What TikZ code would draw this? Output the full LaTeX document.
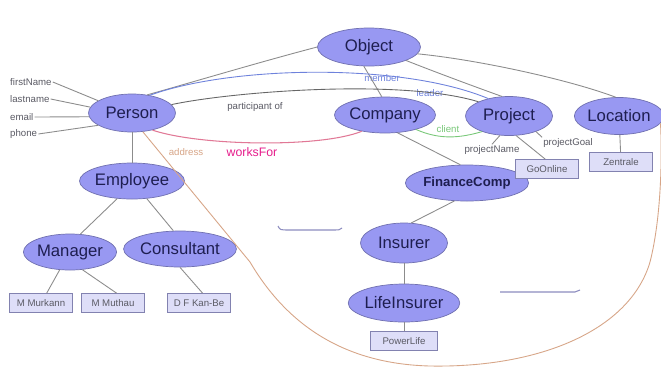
\documentclass[tikz,border=0pt]{standalone}
\usepackage{fontspec}
\setmainfont{Liberation Sans}
\usetikzlibrary{shapes.geometric}
\definecolor{clsfill}{RGB}{152,152,242}
\definecolor{clsline}{RGB}{112,112,176}
\definecolor{clstext}{RGB}{30,30,80}
\definecolor{instfill}{RGB}{222,222,248}
\definecolor{instline}{RGB}{130,130,176}
\definecolor{edge}{RGB}{140,140,140}
\definecolor{lbl}{RGB}{90,90,100}
\definecolor{memberblue}{RGB}{110,130,220}
\definecolor{clientgreen}{RGB}{120,200,120}
\definecolor{worksred}{RGB}{225,120,150}
\definecolor{addr}{RGB}{215,165,135}
\definecolor{worksmag}{RGB}{230,30,140}
\tikzset{
  cls/.style={ellipse, draw=clsline, fill=clsfill, inner sep=0pt,
    minimum width=1.74cm, minimum height=0.76cm, text=clstext,
    font=\fontsize{9.5}{11}\selectfont},
  inst/.style={rectangle, draw=instline, fill=instfill, inner sep=0pt,
    minimum width=1.26cm, minimum height=0.38cm, text=lbl,
    font=\fontsize{5.5}{6}\selectfont},
  attr/.style={inner sep=0.5pt, text=lbl, font=\fontsize{5.5}{6}\selectfont},
  elbl/.style={inner sep=0.5pt, font=\fontsize{5.5}{6}\selectfont},
  link/.style={draw=edge, line width=0.5pt},
}
\begin{document}
\begin{tikzpicture}[x=0.02cm, y=-0.02cm]
\useasboundingbox (0,0) rectangle (661,376);
\fill[white] (0,0) rectangle (661,376);

% classes
\node[cls, minimum width=2.06cm] (obj) at (369,47) {Object};
\node[cls] (person) at (132,113) {Person};
\node[cls, minimum width=1.8cm, minimum height=0.72cm] (company) at (385,115) {Company};
\node[cls, minimum height=0.78cm] (project) at (509,116) {Project};
\node[cls, minimum width=1.68cm, minimum height=0.74cm] (location) at (619,116) {Location};
\node[cls, minimum height=0.72cm] (employee) at (132,181) {Employee};
\node[cls, minimum height=0.72cm] (manager) at (70,252) {Manager};
\node[cls, minimum height=0.72cm] (consultant) at (180,249) {Consultant};
\node[cls, minimum width=1.8cm, minimum height=0.72cm, font=\fontsize{7.5}{9}\selectfont\bfseries] (finance) at (467,183) {FinanceComp};
\node[cls, minimum height=0.8cm] (insurer) at (404,243) {Insurer};
\node[cls] (life) at (404,303) {LifeInsurer};

% instances
\node[inst] (murkann) at (41,303) {M Murkann};
\node[inst] (muthau) at (113,303) {M Muthau};
\node[inst] (kanbe) at (199,303) {D F Kan-Be};
\node[inst] (goonline) at (547,169) {GoOnline};
\node[inst] (zentrale) at (621,162) {Zentrale};
\node[inst, minimum width=1.34cm] (powerlife) at (404,341) {PowerLife};

% attributes of Person
\node[attr, anchor=west] (fname) at (9,82) {firstName};
\node[attr, anchor=west] (lname) at (9,99) {lastname};
\node[attr, anchor=west] (email) at (9,117) {email};
\node[attr, anchor=west] (phone) at (9,134) {phone};

\begin{scope}[on background layer/.style={}]
\draw[link] (fname.east) -- (person.160);
\draw[link] (lname.east) -- (person.172);
\draw[link] (email.east) -- (person.185);
\draw[link] (phone.east) -- (person.200);
\end{scope}

% edge labels
\node[elbl, text=lbl] (lpart) at (255,107) {participant of};
\node[elbl, text=memberblue] (lmember) at (382,78) {member};
\node[elbl, text=memberblue] (lleader) at (430,93) {leader};
\node[elbl, text=clientgreen] (lclient) at (448,129) {client};
\node[elbl, text=addr] (laddr) at (186,152) {address};
\node[inner sep=0.5pt, text=worksmag, font=\fontsize{7}{8}\selectfont] (lworks) at (252,152) {worksFor};
\node[elbl, text=lbl] (lpname) at (492,150) {projectName};
\node[elbl, text=lbl] (lpgoal) at (568,143) {projectGoal};

% hierarchy links
\draw[link] (obj.west) .. controls (260,62) and (200,80) .. (person.50);
\draw[link] (obj.-105) -- (company.100);
\draw[link] (obj.-20) .. controls (430,70) and (470,85) .. (project.110);
\draw[link] (obj.-8) .. controls (480,60) and (570,80) .. (location.100);
\draw[link] (company.-55) -- (finance.110);
\draw[link] (finance.-125) -- (insurer.70);
\draw[link] (insurer) -- (life);
\draw[link] (person) -- (employee);
\draw[link] (employee.-130) -- (manager.60);
\draw[link] (employee.-50) -- (consultant.110);

% instance links
\draw[link] (manager.-120) -- (murkann.60);
\draw[link] (manager.-55) -- (muthau.70);
\draw[link] (consultant.-90) -- (kanbe.70);
\draw[link] (life) -- (powerlife);
\draw[link] (location) -- (zentrale);
\draw[link] (project.-70) -- (goonline.100);

% properties
\draw[draw=memberblue, line width=0.5pt] (person.45) .. controls (230,66) and (400,62) .. (project.140);
\draw[link, draw=gray!80!black] (person.12) .. controls (230,92) and (400,78) .. (project.155);
\draw[draw=worksred, line width=0.6pt] (person.-40) .. controls (200,146) and (320,148) .. (company.-145);
\draw[draw=clientgreen, line width=0.5pt] (company.-25) .. controls (440,140) and (460,138) .. (project.-150);
\draw[link] (project.-115) -- (lpname.north);
\draw[link] (project.-30) -- (lpgoal.north west);
\draw[draw=addr, line width=0.5pt] (person.-60) -- (250,262)
  .. controls (290,330) and (350,364) .. (430,366)
  .. controls (540,368) and (630,330) .. (650,262)
  .. controls (662,215) and (662,150) .. (location.-10);

% leftover strokes
\draw[draw=clsline!80, line width=0.6pt] (278,226) .. controls (280,230) .. (290,230) -- (330,230) .. controls (340,230) .. (342,228);
\draw[draw=clsline!80, line width=0.6pt] (500,292) -- (575,292) -- (580,290);
\end{tikzpicture}
\end{document}
